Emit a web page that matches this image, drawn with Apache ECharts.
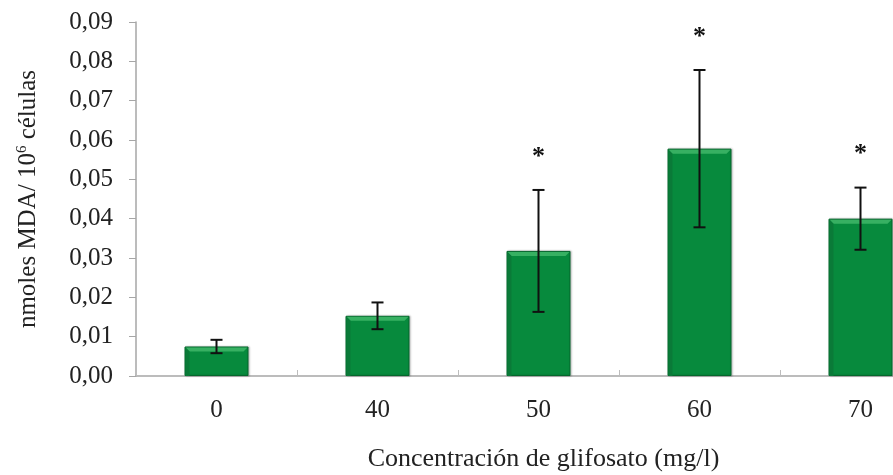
<!DOCTYPE html>
<html>
<head>
<meta charset="utf-8">
<script src="https://cdn.jsdelivr.net/npm/echarts@6/dist/echarts.min.js"></script>
<style>
  html, body { margin: 0; padding: 0; background: #fff; overflow: hidden; }
  #chart { width: 941px; height: 475px; }
</style>
</head>
<body>
<div id="chart"></div>
<script>
// Glyphosate concentration (mg/l)
const categories = ['0', '40', '50', '60', '70'];
// Mean nmoles MDA per 10^6 cells
const meanValues = [0.0075, 0.0153, 0.0318, 0.0578, 0.0400];
// Standard deviation for each group
const sdValues = [0.0017, 0.0034, 0.0155, 0.0200, 0.0079];
// Significant difference marker
const significant = [false, false, true, true, true];
// Y axis ticks
const yTicks = [0, 0.01, 0.02, 0.03, 0.04, 0.05, 0.06, 0.07, 0.08, 0.09];

const serif = '"Liberation Serif", "Times New Roman", serif';

const chart = echarts.init(document.getElementById('chart'), null, { renderer: 'canvas' });

const errData = categories.map((c, i) => [i, meanValues[i], sdValues[i], significant[i] ? 1 : 0]);

chart.setOption({
  animation: false,
  backgroundColor: '#ffffff',
  grid: { left: 136, right: 0, top: 22, bottom: 99, containLabel: false, outerBoundsMode: 'none' },
  xAxis: {
    type: 'category',
    data: categories,
    name: 'Concentración de glifosato (mg/l)',
    nameLocation: 'middle',
    nameGap: 70,
    nameTextStyle: { fontFamily: serif, fontSize: 26, color: '#222', padding: [0, 0, 0, 10] },
    axisLine: { lineStyle: { color: '#a6a6a6', width: 1.5 } },
    axisTick: { show: true, inside: true, length: 6, lineStyle: { color: '#bdbdbd' } },
    axisLabel: { fontFamily: serif, fontSize: 25, color: '#222', margin: 22 }
  },
  yAxis: {
    type: 'value',
    min: 0,
    max: 0.09,
    interval: 0.01,
    name: 'nmoles MDA/ 10{sup|6} células',
    nameLocation: 'middle',
    nameGap: 94,
    nameRotate: 90,
    nameTextStyle: {
      fontFamily: serif, fontSize: 25, color: '#222',
      rich: { sup: { fontFamily: serif, fontSize: 15, color: '#222', padding: [0, 0, 12, 0] } }
    },
    axisLine: { show: true, lineStyle: { color: '#a6a6a6', width: 1.5 } },
    axisTick: { show: true, length: 7, lineStyle: { color: '#a6a6a6' } },
    splitLine: { show: false },
    axisLabel: {
      fontFamily: serif, fontSize: 25, color: '#222', margin: 23,
      formatter: v => {
        const t = yTicks.find(k => Math.abs(k - v) < 1e-9);
        return (t !== undefined ? t : v).toFixed(2).replace('.', ',');
      }
    }
  },
  series: [
    {
      type: 'bar',
      data: meanValues,
      barWidth: 64,
      itemStyle: {
        color: '#078a3d',
        borderColor: '#05672c',
        borderWidth: 1,
        shadowColor: 'rgba(0,0,0,0.25)',
        shadowBlur: 2,
        shadowOffsetX: 1
      },
      z: 2
    },
    {
      // Bevel highlight along the top of each bar
      type: 'custom',
      data: meanValues.map((v, i) => [i, v]),
      z: 3,
      silent: true,
      renderItem: (params, api) => {
        const i = api.value(0);
        const top = api.coord([i, api.value(1)]);
        const base = api.coord([i, 0])[1];
        const w = 64;
        const x0 = top[0] - w / 2, x1 = top[0] + w / 2, y0 = top[1];
        const d = 5;
        return {
          type: 'group',
          children: [
            { type: 'polygon', shape: { points: [[x0 + 1, y0 + 1], [x1 - 1, y0 + 1], [x1 - d, y0 + d], [x0 + d, y0 + d]] },
              style: { fill: '#37b062' } },
            { type: 'polygon', shape: { points: [[x0 + 1, y0 + 1], [x0 + d, y0 + d], [x0 + d, base], [x0 + 1, base]] },
              style: { fill: '#0a7a38' } }
          ]
        };
      }
    },
    {
      // Error bars (mean ± SD) and significance asterisks
      type: 'custom',
      data: errData,
      z: 5,
      silent: true,
      renderItem: (params, api) => {
        const i = api.value(0), m = api.value(1), s = api.value(2), sig = api.value(3);
        const hi = api.coord([i, m + s]);
        const lo = api.coord([i, m - s]);
        const cx = hi[0], cap = 6;
        const ls = { stroke: '#111', lineWidth: 2 };
        const children = [
          { type: 'line', shape: { x1: cx, y1: hi[1], x2: cx, y2: lo[1] }, style: ls },
          { type: 'line', shape: { x1: cx - cap, y1: hi[1], x2: cx + cap, y2: hi[1] }, style: ls },
          { type: 'line', shape: { x1: cx - cap, y1: lo[1], x2: cx + cap, y2: lo[1] }, style: ls }
        ];
        if (sig) {
          children.push({
            type: 'text',
            style: {
              text: '*', x: cx, y: hi[1] - 33,
              align: 'center', verticalAlign: 'middle',
              font: 'bold 26px ' + serif, fill: '#111'
            }
          });
        }
        return { type: 'group', children };
      }
    }
  ]
});
</script>
</body>
</html>
